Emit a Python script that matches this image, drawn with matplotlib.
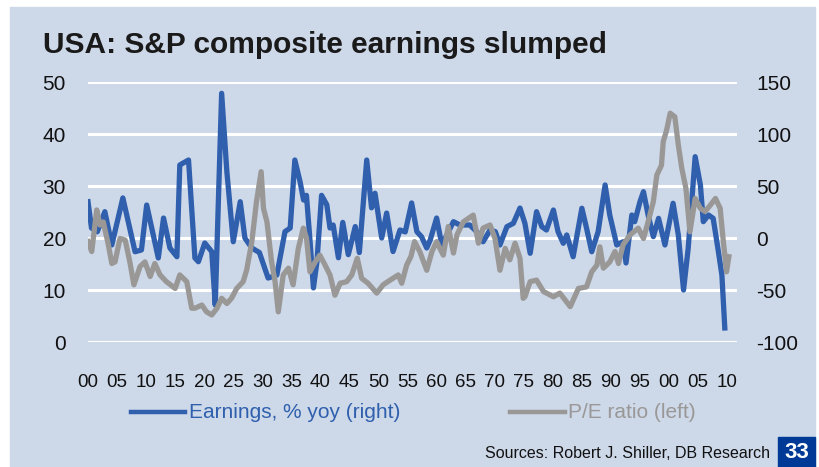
import matplotlib
matplotlib.use("Agg")
import matplotlib.pyplot as plt
from matplotlib.patches import Rectangle
from matplotlib.lines import Line2D

plt.rcParams["axes.unicode_minus"] = False

# Earnings, % yoy (right axis)
eps_years = [1900.0, 1900.6, 1901.6, 1902.9, 1904.1, 1906.0, 1908.1, 1909.2, 1910.1,
             1912.1, 1913.0, 1914.1, 1915.3, 1915.8, 1917.3, 1918.4, 1919.0, 1920.1,
             1921.3, 1921.9, 1923.0, 1923.9, 1925.0, 1926.2, 1927.0, 1928.2, 1929.5,
             1931.0, 1932.5, 1933.9, 1934.8, 1935.6, 1936.5, 1937.1, 1937.6, 1938.2,
             1938.8, 1939.4, 1940.2, 1941.1, 1941.65, 1942.2, 1943.1, 1943.85, 1944.8,
             1946.0, 1946.7, 1947.97, 1948.8, 1949.4, 1950.55, 1951.4, 1952.5, 1953.7,
             1954.6, 1955.7, 1956.6, 1957.4, 1958.3, 1958.9, 1960.0, 1960.9, 1962.9,
             1964.0, 1965.7, 1966.9, 1968.0, 1969.2, 1970.1, 1970.9, 1972.1, 1973.2,
             1974.35, 1975.2, 1976.1, 1977.2, 1978.1, 1978.9, 1980.1, 1980.9, 1981.8,
             1982.4, 1983.5, 1985.0, 1985.8, 1986.7, 1987.8, 1989.0, 1989.8, 1991.0,
             1992.1, 1992.6, 1993.6, 1994.1, 1995.0, 1995.6, 1996.4, 1997.3, 1998.2,
             1999.3, 2000.7, 2001.6, 2002.5, 2003.3, 2004.5, 2005.4, 2005.9, 2006.8,
             2007.6, 2008.5, 2009.1, 2009.6]
eps_values = [34.9, 9.6, 6.0, 25.3, -6.7, 38.5, -13.2, -11.5, 31.7,
              -19.2, 19.2, -9.6, -18.0, 70.2, 75.0, -19.2, -22.8, -4.8,
              -13.2, -64.4, 139.1, 63.7, -3.6, 34.9, 0.0, -9.6, -14.0,
              -38.5, -35.6, 6.1, 9.6, 75.0, 54.1, 36.5, 41.0, -2.0,
              -48.0, -23.0, 41.0, 32.0, 9.6, 12.5, -19.0, 15.0, -16.0,
              11.0, -14.0, 75.0, 29.0, 43.0, 0.0, 24.0, -13.0, 7.7,
              5.8, 33.7, 6.1, 1.3, -9.6, -1.9, 19.2, -6.7, 15.7,
              12.5, 12.5, 6.1, -3.6, 7.7, 6.1, -6.7, 10.9, 14.1,
              28.8, 14.1, -14.7, 25.3, 10.9, 7.7, 26.9, 6.1, -5.1,
              2.9, -18.0, 28.6, 9.6, -13.2, 6.1, 51.0, 22.1, -6.7,
              -3.6, -24.0, 22.1, 15.7, 34.9, 44.5, 22.1, 1.3, 18.9,
              -6.7, 33.4, 2.9, -50.0, -9.9, 78.2, 51.0, 15.7, 22.1,
              18.9, -13.2, -35.6, -86.5]

# P/E ratio (left axis)
pe_years = [1900.0, 1900.64, 1901.5, 1902.07, 1902.63, 1903.5, 1904.1, 1904.65, 1905.5,
            1906.4, 1907.2, 1907.9, 1908.95, 1909.8, 1910.7, 1911.5, 1912.4, 1913.5,
            1915.0, 1915.8, 1917.0, 1917.85, 1918.4, 1919.6, 1920.4, 1921.3, 1922.2,
            1923.0, 1923.9, 1924.7, 1925.6, 1926.7, 1927.3, 1928.2, 1929.0, 1929.8,
            1930.2, 1930.8, 1931.6, 1932.2, 1932.75, 1933.6, 1934.5, 1935.3, 1936.2,
            1937.06, 1937.6, 1938.2, 1939.1, 1939.9, 1940.8, 1941.65, 1942.5, 1943.4,
            1944.5, 1945.4, 1946.35, 1947.1, 1948.2, 1949.7, 1950.8, 1952.0, 1953.4,
            1954.0, 1954.85, 1955.6, 1956.2, 1957.1, 1958.3, 1959.2, 1960.0, 1961.15,
            1962.0, 1962.9, 1963.5, 1964.6, 1966.3, 1967.2, 1968.0, 1969.2, 1970.05,
            1970.9, 1971.8, 1972.6, 1973.5, 1974.35, 1974.9, 1975.2, 1976.1, 1977.2,
            1978.4, 1980.1, 1981.2, 1983.0, 1984.4, 1985.8, 1986.7, 1987.6, 1988.1,
            1988.7, 1989.8, 1990.7, 1991.3, 1992.1, 1993.3, 1994.7, 1995.6, 1996.4,
            1997.3, 1997.9, 1998.7, 1999.0, 1999.6, 2000.2, 2001.0, 2001.6, 2002.2,
            2002.9, 2003.6, 2004.5, 2005.4, 2006.2, 2007.1, 2008.0, 2008.8, 2009.35,
            2009.9, 2010.3]
pe_values = [19.3, 17.4, 25.4, 22.5, 23.1, 18.7, 15.1, 15.4, 19.9,
             19.6, 15.4, 11.0, 14.5, 15.4, 12.6, 15.1, 12.9, 11.6,
             10.3, 12.9, 11.6, 6.5, 6.5, 7.1, 5.8, 5.2, 6.5,
             8.4, 7.4, 8.4, 10.3, 11.6, 13.8, 19.3, 27.0, 32.75,
             25.7, 23.1, 15.4, 11.6, 5.8, 12.9, 14.2, 11.0, 18.0,
             21.9, 20.0, 13.5, 15.4, 16.7, 14.8, 12.9, 9.0, 11.3,
             11.6, 12.9, 16.1, 12.25, 11.3, 9.4, 11.0, 11.9, 12.9,
             11.3, 14.8, 16.5, 19.3, 17.4, 13.8, 17.4, 19.3, 16.7,
             22.2, 17.1, 20.6, 23.1, 24.4, 19.0, 21.9, 22.5, 19.9,
             13.8, 18.0, 15.8, 19.0, 16.1, 8.4, 8.7, 11.6, 11.9,
             9.7, 8.7, 9.4, 6.8, 10.3, 10.6, 13.5, 14.8, 18.3,
             14.2, 15.4, 17.4, 15.1, 18.7, 20.6, 21.9, 19.9, 23.1,
             27.0, 32.1, 34.0, 38.5, 40.8, 44.0, 43.3, 37.9, 33.4,
             29.6, 21.2, 27.6, 25.7, 25.1, 26.3, 27.6, 25.7, 19.3,
             13.5, 16.4]

x_ticks = list(range(1900, 2011, 5))
x_labels = ["%02d" % (y % 100) for y in x_ticks]
series_names = ["Earnings, % yoy (right)", "P/E ratio (left)"]

BG = "#cdd8e9"
BLUE = "#2f5fad"
GREY = "#9a9896"
FONT = ["Liberation Sans", "DejaVu Sans"]

fig = plt.figure(figsize=(8.2, 4.67), dpi=100)
fig.patch.set_facecolor("white")
fig.patches.append(Rectangle((10 / 820, 0), 805 / 820, 460 / 467,
                             transform=fig.transFigure, color=BG, zorder=-10))

ax = fig.add_axes([88 / 820, 1 - 342 / 467, 649 / 820, 260 / 467])
ax.set_facecolor("none")
ax2 = ax.twinx()

ax.plot(pe_years, pe_values, color=GREY, lw=3.8, solid_joinstyle="round", zorder=3)
ax2.plot(eps_years, eps_values, color=BLUE, lw=3.8, solid_joinstyle="round", zorder=2)
# grey drawn over blue
ax.set_zorder(2)
ax2.set_zorder(1)
ax2.patch.set_visible(False)

ax.set_xlim(1900, 2011.7)
ax.set_ylim(0, 50)
ax2.set_ylim(-100, 150)
ax.set_yticks(range(0, 51, 10))
ax2.set_yticks(range(-100, 151, 50))
ax.set_xticks(x_ticks)
ax.set_xticklabels(x_labels, family=FONT, fontsize=13.5, color="#111111")

# white gridlines behind the series
for v in range(-100, 151, 50):
    ax2.axhline(v, color="white", lw=2.2, zorder=0)

for a in (ax, ax2):
    for s in a.spines.values():
        s.set_visible(False)
    a.tick_params(length=0)
ax.tick_params(axis="x", pad=23)
ax.tick_params(axis="y", pad=16)
ax2.tick_params(axis="y", pad=14)
for t in ax.get_yticklabels() + ax2.get_yticklabels():
    t.set_fontsize(15)
    t.set_family(FONT)
    t.set_color("#111111")

fig.text(43 / 820, 1 - 45 / 467, "USA: S&P composite earnings slumped",
         family=FONT, fontsize=21.5, fontweight="bold", color="#1a1a1a", va="center")

# legend, laid out by hand
leg_y = 1 - 412 / 467
for (x0, x1, tx), name, c in zip([(131, 185, 189), (510, 565, 568)], series_names, (BLUE, GREY)):
    fig.lines.append(Line2D([x0 / 820, x1 / 820], [leg_y, leg_y], transform=fig.transFigure,
                            color=c, lw=3.2))
    fig.text(tx / 820, leg_y, name, family=FONT, fontsize=15, color=c, va="center")

fig.text(770 / 820, 1 - 453 / 467, "Sources: Robert J. Shiller, DB Research",
         family=FONT, fontsize=11.5, color="#111111", ha="right", va="center")
fig.patches.append(Rectangle((778 / 820, 0), 37 / 820, 30 / 467,
                             transform=fig.transFigure, color="#003a96", zorder=5))
fig.text(796.5 / 820, 15 / 467, "33", family=FONT, fontsize=16,
         fontweight="bold", color="white", ha="center", va="center", zorder=6)

fig.savefig("out.png", dpi=100, facecolor=fig.get_facecolor())
